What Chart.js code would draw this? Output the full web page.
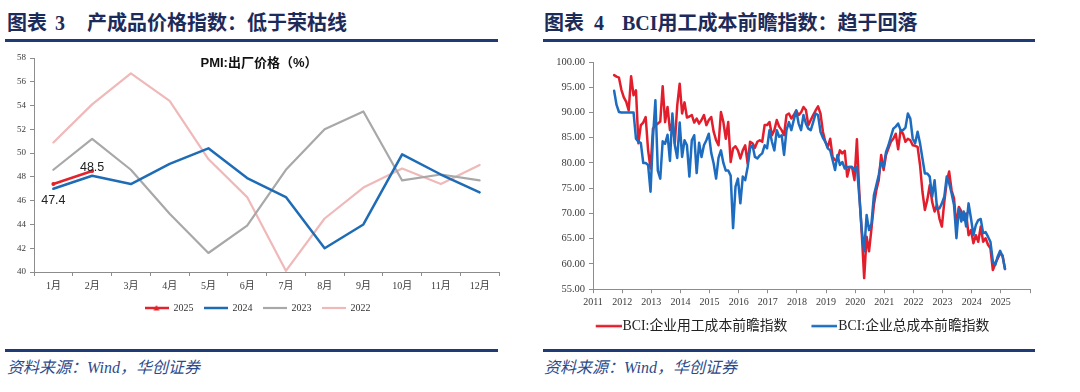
<!DOCTYPE html>
<html>
<head>
<meta charset="utf-8">
<script src="https://cdn.jsdelivr.net/npm/chart.js@4.4.1/dist/chart.umd.min.js"></script>
<style>
html,body{margin:0;padding:0;background:#fff;}
body{width:1080px;height:392px;position:relative;overflow:hidden;font-family:"Liberation Serif","Noto Sans CJK SC",serif;}
.hdr{position:absolute;top:10px;font-size:20px;font-weight:700;color:#1c2b5a;line-height:26px;white-space:nowrap;}
.rule{position:absolute;height:3px;background:#1f3b76;}
.src{position:absolute;top:357px;font-size:16px;font-style:italic;color:#2d4b8a;line-height:22px;white-space:nowrap;}
.ptitle{position:absolute;top:55px;left:259px;transform:translateX(-50%);font-family:"Liberation Sans","Noto Sans CJK SC",sans-serif;font-size:13px;font-weight:700;color:#111;line-height:16px;white-space:nowrap;}
canvas{position:absolute;}
</style>
</head>
<body>
<div class="hdr" style="left:7px">图表</div>
<div class="hdr" style="left:55px">3</div>
<div class="hdr" style="left:87px">产成品价格指数：低于荣枯线</div>
<div class="rule" style="left:5px;width:493px;top:39px"></div>

<div class="hdr" style="left:544px">图表</div>
<div class="hdr" style="left:594px">4</div>
<div class="hdr" style="left:622px">BCI用工成本前瞻指数：趋于回落</div>
<div class="rule" style="left:543px;width:492px;top:39px"></div>

<canvas id="pmi" width="540" height="290" style="left:0;top:45px"></canvas>
<div class="ptitle">PMI:出厂价格（%）</div>
<canvas id="bci" width="540" height="300" style="left:540px;top:45px"></canvas>

<div class="rule" style="left:5px;width:493px;top:349px"></div>
<div class="rule" style="left:543px;width:492px;top:349px"></div>
<div class="src" style="left:7px">资料来源：Wind，华创证券</div>
<div class="src" style="left:544px">资料来源：Wind，华创证券</div>

<script>
// ---------- Chart 3 data: PMI 出厂价格 ----------
const months = ['1月','2月','3月','4月','5月','6月','7月','8月','9月','10月','11月','12月'];
const s2025 = [47.4, 48.5];
const s2024 = [47.0, 48.1, 47.4, 49.1, 50.4, 47.9, 46.3, 42.0, 44.0, 49.9, 48.2, 46.7];
const s2023 = [48.6, 51.2, 48.6, 44.9, 41.6, 43.9, 48.6, 52.0, 53.5, 47.7, 48.2, 47.7];
const s2022 = [50.9, 54.1, 56.7, 54.4, 49.5, 46.3, 40.1, 44.5, 47.1, 48.7, 47.4, 49.0];
const pmiYTicks = [40, 42, 44, 46, 48, 50, 52, 54, 56, 58];

// ---------- Chart 4 data: BCI 前瞻指数 (monthly, from 2011-09) ----------
const bciStartYear = 2011, bciStartMonth = 9;
const bciLabor = [
  97.4, 97.1, 96.9, 94.5,
  93.0, 92.1, 90.4, 97.2, 93.4, 94.4, 83.9, 87.5, 88.0, 89.1, 82.5, 78.9,
  86.8, 87.5, 87.8, 88.2, 95.2, 88.1, 91.1, 86.5, 88.0, 83.9, 91.4, 95.7,
  89.8, 92.0, 89.0, 89.2, 89.5, 88.0, 88.8, 87.8, 88.5, 89.5, 87.5, 88.5,
  89.1, 86.2, 84.5, 83.5, 90.1, 88.1, 84.8, 88.1, 80.2, 82.9, 83.3, 82.5,
  80.9, 82.5, 83.5, 79.9, 84.2, 83.9, 83.0, 84.2, 84.5, 84.2, 87.5, 87.5,
  88.1, 85.5, 86.5, 88.5, 87.2, 86.5, 85.5, 89.5, 89.8, 88.8, 89.5, 90.4,
  89.5, 90.0, 91.1, 90.5, 87.5, 88.5, 89.5, 90.4, 91.2, 89.8, 86.2, 84.2,
  83.2, 84.8, 81.2, 80.6, 80.6, 82.5, 81.9, 82.4, 77.3, 79.2, 79.2, 76.6,
  84.7, 74.0, 66.1, 57.2, 65.4, 62.5, 67.0, 71.7, 74.6, 76.6, 81.6, 78.6,
  81.6, 82.9, 84.2, 84.8, 85.8, 82.7, 86.5, 85.8, 84.2, 84.8, 84.5, 83.5,
  83.4, 83.2, 79.6, 74.3, 70.7, 72.7, 75.6, 72.3, 70.4, 71.7, 69.0, 67.4,
  72.3, 76.3, 78.3, 74.6, 73.0, 67.4, 71.3, 70.4, 68.7, 70.0, 65.7, 66.7,
  64.1, 65.7, 64.4, 67.4, 64.4, 65.1, 63.8, 63.1, 58.8, 60.1, 61.1, 62.1,
  61.7, 59.0
];
const bciTotal = [
  94.3, 91.5, 90.1, 90.0,
  90.0, 90.0, 90.0, 90.0, 90.0, 84.8, 84.2, 84.0, 80.0, 80.0, 79.6, 74.3,
  85.0, 92.4, 78.5, 76.9, 84.3, 83.8, 85.6, 80.4, 89.8, 83.5, 81.0, 88.0,
  81.2, 84.5, 83.5, 77.3, 84.5, 85.5, 78.0, 84.0, 81.2, 83.5, 84.5, 85.8,
  82.0, 79.9, 76.9, 81.0, 82.5, 80.0, 78.5, 78.5, 77.5, 67.1, 75.3, 76.9,
  72.0, 77.3, 76.6, 79.2, 82.9, 83.5, 81.2, 80.9, 81.5, 81.9, 83.5, 82.9,
  86.5, 84.2, 82.5, 86.5, 85.2, 85.5, 81.6, 86.5, 88.1, 86.5, 88.5, 90.4,
  87.8, 86.5, 89.5, 87.8, 86.8, 86.5, 88.1, 89.8, 89.5, 86.2, 85.0, 84.2,
  82.9, 82.5, 80.6, 78.6, 81.6, 79.6, 80.2, 78.9, 79.2, 79.2, 79.2, 78.6,
  79.2, 73.3, 66.7, 62.5, 69.7, 66.7, 68.0, 73.6, 75.6, 77.6, 80.2, 79.2,
  82.2, 83.5, 85.2, 86.8, 87.2, 87.8, 86.5, 86.5, 87.0, 89.8, 88.8, 84.8,
  83.9, 86.2, 83.9, 80.9, 77.9, 77.9, 77.3, 73.3, 76.6, 71.0, 71.0, 72.0,
  73.3, 77.3, 76.0, 74.0, 71.7, 65.1, 71.0, 68.4, 70.4, 67.4, 72.0, 69.0,
  65.7, 67.7, 68.7, 68.9, 66.1, 66.3, 65.4, 64.4, 60.5, 59.8, 61.5, 62.6,
  61.5, 59.0
];
const bciYearTicks = [2011,2012,2013,2014,2015,2016,2017,2018,2019,2020,2021,2022,2023,2024,2025];
const bciYTicks = [55, 60, 65, 70, 75, 80, 85, 90, 95, 100];

// month labels for BCI readings (Wind dates each reading late in its month)
const bciDates = bciLabor.map((_, k) => {
  const m0 = bciStartMonth - 1 + k;
  return { year: bciStartYear + Math.floor(m0 / 12), month: (m0 % 12) + 1 };
});
const dateToX = d => d.year + (d.month - 1 + 0.7) / 12;

const SERIF = '"Liberation Serif", "Noto Sans CJK SC", serif';
const AXIS = '#8c8c8c';
const TXT = '#3a3a3a';

// legend line icon: transparent lead-in, then a line sample (+ optional marker)
function lineIcon(color, width, len, lead, marker) {
  const c = document.createElement('canvas');
  c.width = lead + len; c.height = 8;
  const g = c.getContext('2d');
  g.strokeStyle = color; g.lineWidth = width;
  g.beginPath(); g.moveTo(lead, 4); g.lineTo(lead + len, 4); g.stroke();
  if (marker) {
    const m = lead + len / 2;
    g.fillStyle = color;
    g.beginPath(); g.moveTo(m, 1); g.lineTo(m + 3, 6.5); g.lineTo(m - 3, 6.5); g.closePath(); g.fill();
  }
  return c;
}

// ---------- Chart 3 ----------
const pmiColors = ['#e3222b', '#1f6cb6', '#a8a8a8', '#f0b9b9'];
const pmiWidths = [2.5, 2.5, 2.2, 2.2];
const pmiSeries = [s2025, s2024, s2023, s2022];
const pmiNames = ['2025', '2024', '2023', '2022'];
const pmiIcons = pmiColors.map((c, i) => lineIcon(c, pmiWidths[i], 24, 0, i === 0));

const pointLabels = {
  id: 'pointLabels',
  afterDatasetsDraw(chart) {
    const { ctx, scales: { x, y } } = chart;
    ctx.save();
    ctx.font = '12.5px "Liberation Sans", "Noto Sans", sans-serif';
    ctx.fillStyle = '#222';
    ctx.textAlign = 'center';
    ctx.textBaseline = 'top';
    ctx.fillText(s2025[0].toFixed(1), x.getPixelForValue(0), y.getPixelForValue(s2025[0]) + 10);
    ctx.textBaseline = 'alphabetic';
    ctx.fillText(s2025[1].toFixed(1), x.getPixelForValue(1), y.getPixelForValue(s2025[1]) + 0.5);
    ctx.restore();
  }
};

new Chart(document.getElementById('pmi'), {
  type: 'line',
  data: {
    labels: months,
    datasets: pmiSeries.map((d, i) => ({
      label: pmiNames[i],
      data: d,
      borderColor: pmiColors[i],
      backgroundColor: pmiColors[i],
      borderWidth: pmiWidths[i],
      pointRadius: i === 0 ? 2 : 0,
      pointBorderWidth: 0,
      pointHoverRadius: 0,
      tension: 0,
      borderJoinStyle: 'round',
      borderCapStyle: 'round'
    }))
  },
  options: {
    responsive: false,
    animation: false,
    layout: { padding: { left: 16, right: 41, top: 13, bottom: 12 } },
    plugins: {
      legend: {
        position: 'bottom',
        labels: {
          usePointStyle: true,
          pointStyleWidth: 24,
          padding: 10,
          color: '#333',
          font: { family: SERIF, size: 10 },
          generateLabels(chart) {
            const items = Chart.defaults.plugins.legend.labels.generateLabels(chart);
            items.forEach(it => { it.pointStyle = pmiIcons[it.datasetIndex]; });
            return items;
          },
          sort: (a, b) => a.datasetIndex - b.datasetIndex
        }
      },
      tooltip: { enabled: false }
    },
    scales: {
      x: {
        offset: true,
        grid: { offset: true, drawOnChartArea: false, drawTicks: true, tickLength: 4, color: AXIS },
        border: { color: AXIS, width: 1 },
        ticks: { color: TXT, font: { family: SERIF, size: 10 }, padding: 4, maxRotation: 0 },
        afterFit(s) { s.height = 21; }
      },
      y: {
        min: pmiYTicks[0], max: pmiYTicks[pmiYTicks.length - 1],
        grid: { drawOnChartArea: false, drawTicks: true, tickLength: 4, color: AXIS },
        border: { color: AXIS, width: 1 },
        ticks: { stepSize: 2, color: TXT, font: { family: SERIF, size: 9 }, padding: 4,
                 callback: v => pmiYTicks.includes(v) ? String(v) : '' },
        afterFit(s) { s.width = 18; }
      }
    }
  },
  plugins: [pointLabels]
});

// ---------- Chart 4 ----------
const bciColors = ['#e31e2c', '#1d6cc0'];
// icon is wider than the legend box so the line sample runs up to the label text
const bciIcons = bciColors.map(c => lineIcon(c, 2.5, 26, 19, false));
new Chart(document.getElementById('bci'), {
  type: 'line',
  data: {
    datasets: [
      { label: 'BCI:企业用工成本前瞻指数',
        data: bciLabor.map((v, k) => ({ x: dateToX(bciDates[k]), y: v })),
        borderColor: bciColors[0], backgroundColor: bciColors[0], order: 1 },
      { label: 'BCI:企业总成本前瞻指数',
        data: bciTotal.map((v, k) => ({ x: dateToX(bciDates[k]), y: v })),
        borderColor: bciColors[1], backgroundColor: bciColors[1], order: 0 }
    ].map(d => Object.assign(d, { borderWidth: 2.5, pointRadius: 0, pointHoverRadius: 0, tension: 0,
                                  borderJoinStyle: 'round', borderCapStyle: 'round' }))
  },
  options: {
    responsive: false,
    animation: false,
    layout: { padding: { left: 2, right: 50, top: 17, bottom: 2 } },
    plugins: {
      legend: {
        position: 'bottom',
        labels: {
          usePointStyle: true, pointStyleWidth: 33,
          padding: 11, color: '#222',
          font: { family: SERIF, size: 13.8 },
          generateLabels(chart) {
            const items = Chart.defaults.plugins.legend.labels.generateLabels(chart);
            items.forEach(it => { it.pointStyle = bciIcons[it.datasetIndex]; });
            return items;
          },
          sort: (a, b) => a.datasetIndex - b.datasetIndex
        }
      },
      tooltip: { enabled: false }
    },
    scales: {
      x: {
        type: 'linear',
        min: bciYearTicks[0], max: bciYearTicks[bciYearTicks.length - 1] + 1,
        grid: { drawOnChartArea: false, drawTicks: true, tickLength: 4, color: AXIS },
        border: { color: AXIS, width: 1 },
        ticks: { stepSize: 1, color: TXT, font: { family: SERIF, size: 10 }, padding: 3, maxRotation: 0,
                 autoSkip: false,
                 callback: v => bciYearTicks.includes(v) ? String(v) : '' },
        afterFit(s) { s.height = 19; }
      },
      y: {
        min: bciYTicks[0], max: bciYTicks[bciYTicks.length - 1],
        grid: { drawOnChartArea: false, drawTicks: true, tickLength: 4, color: AXIS },
        border: { color: AXIS, width: 1 },
        ticks: { stepSize: 5, color: TXT, font: { family: SERIF, size: 10.5 }, padding: 4,
                 callback: v => bciYTicks.includes(v) ? v.toFixed(2) : '' },
        afterFit(s) { s.width = 51; }
      }
    }
  }
});
</script>
</body>
</html>
